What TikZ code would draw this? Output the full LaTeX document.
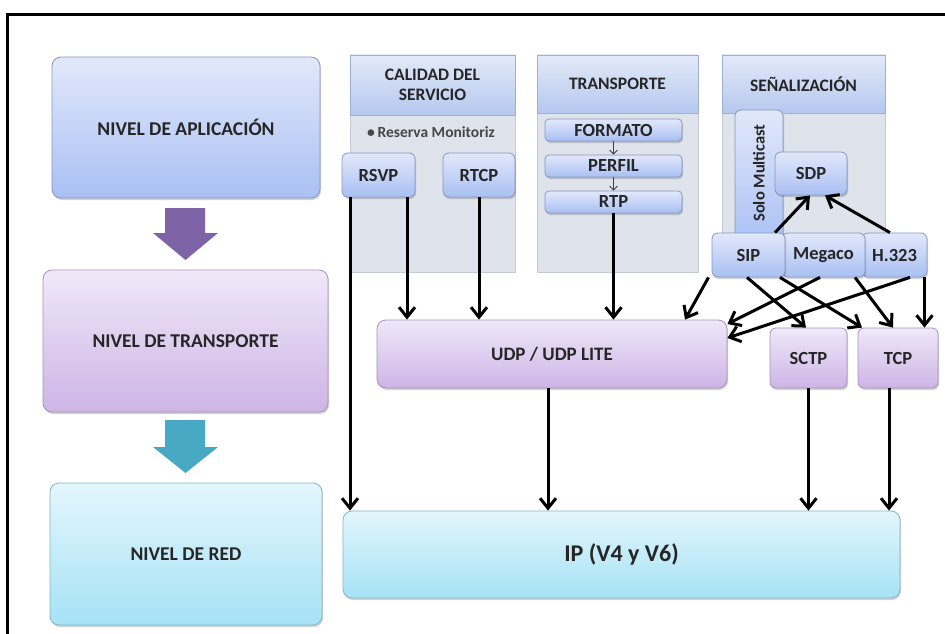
\documentclass[tikz,border=0pt]{standalone}
\usepackage{fontspec}
\setmainfont{Carlito}
\usetikzlibrary{arrows.meta,shadows}

\definecolor{inkc}{HTML}{262626}
\definecolor{appTop}{HTML}{E2E8FB}
\definecolor{appBot}{HTML}{A9C0F3}
\definecolor{appLine}{HTML}{8797BC}
\definecolor{trpTop}{HTML}{F0E8F9}
\definecolor{trpBot}{HTML}{CDB5E6}
\definecolor{trpLine}{HTML}{A593BD}
\definecolor{redTop}{HTML}{E3F6FC}
\definecolor{redBot}{HTML}{A6E2F6}
\definecolor{redLine}{HTML}{86B6C6}
\definecolor{panelFill}{HTML}{DFE3EB}
\definecolor{panelLine}{HTML}{C3CAD6}
\definecolor{hdrTop}{HTML}{E3EAF9}
\definecolor{hdrBot}{HTML}{B5C8EF}
\definecolor{hdrLine}{HTML}{9FB0CF}
\definecolor{arrPurple}{HTML}{7E63A6}
\definecolor{arrTeal}{HTML}{48A9C5}

\tikzset{
  shade/.style={drop shadow={shadow xshift=1pt, shadow yshift=-2pt, opacity=0.25, fill=black!70}},
  box/.style={rounded corners=9pt, draw, line width=0.8pt, align=center,
    text=inkc, inner sep=0pt, shade},
  appbox/.style={box, draw=appLine, top color=appTop, bottom color=appBot},
  trpbox/.style={box, draw=trpLine, top color=trpTop, bottom color=trpBot},
  redbox/.style={box, draw=redLine, top color=redTop, bottom color=redBot},
  smallbox/.style={box, rounded corners=6pt, draw=appLine, top color=appTop, bottom color=appBot},
  protofont/.style={font=\fontsize{18.5}{20}\selectfont\bfseries},
  protobox/.style={smallbox, protofont},
  bigtext/.style={font=\fontsize{19.5}{22}\selectfont\bfseries},
  panel/.style={draw=panelLine, line width=0.6pt, fill=panelFill, inner sep=0pt},
  header/.style={draw=hdrLine, line width=0.6pt, top color=hdrTop, bottom color=hdrBot,
    inner sep=0pt, align=center, text=inkc, font=\fontsize{17.5}{20}\selectfont\bfseries},
  conn/.style={line width=3pt, -{Straight Barb[length=10pt,width=16pt]}},
  thinconn/.style={line width=0.8pt, draw=black!75, -{Straight Barb[length=4pt,width=8pt]}}
}

\begin{document}
\begin{tikzpicture}[x=1pt,y=-1pt]
\useasboundingbox (0,0) rectangle (945,634);
\fill[white] (0,0) rectangle (945,634);

% outer frame
\draw[line width=3pt] (7,634) -- (7,15) -- (945,15);

% ---- left column: the three levels
\node[appbox, bigtext, minimum width=268pt, minimum height=141pt] (app) at (186,127.5) {NIVEL DE APLICACIÓN};
\node[trpbox, bigtext, minimum width=285pt, minimum height=142pt] (trp) at (185.5,341) {NIVEL DE TRANSPORTE};
\node[redbox, bigtext, minimum width=272pt, minimum height=142pt] (red) at (186,554) {NIVEL DE RED};

% block arrows between levels
\fill[arrPurple] (165,208) -- (205,208) -- (205,233) -- (218,233) -- (185.5,260)
  -- (153,233) -- (165,233) -- cycle;
\fill[arrTeal] (165,420) -- (205,420) -- (205,447) -- (218,447) -- (185.5,473)
  -- (153,447) -- (165,447) -- cycle;

% ---- column panels
\node[panel, minimum width=165pt, minimum height=217pt] (calp) at (432.5,163.5) {};
\node[header, minimum width=165pt, minimum height=60pt, anchor=north] (calh) at (calp.north) {CALIDAD DEL\\SERVICIO};
\node[panel, minimum width=161pt, minimum height=217pt] (trnp) at (617.5,163.5) {};
\node[header, minimum width=161pt, minimum height=58pt, anchor=north] (trnh) at (trnp.north) {TRANSPORTE};
\node[panel, minimum width=163pt, minimum height=200pt] (senp) at (803.5,155) {};
\node[header, minimum width=163pt, minimum height=58pt, anchor=north] (senh) at (senp.north) {SEÑALIZACIÓN};

% quality of service
\node[text=inkc!85, font=\fontsize{15.5}{17}\selectfont\bfseries] (resv) at (431,132) {\textbullet\,Reserva Monitoriz};
\node[protobox, minimum width=73pt, minimum height=44pt] (rsvp) at (378.5,175) {RSVP};
\node[protobox, minimum width=72pt, minimum height=44pt] (rtcp) at (479,175) {RTCP};

% transport chain
\node[protobox, rounded corners=4pt, minimum width=137pt, minimum height=22pt] (fmt) at (613.5,130) {FORMATO};
\node[protobox, rounded corners=4pt, minimum width=137pt, minimum height=22pt] (prf) at (613.5,166) {PERFIL};
\node[protobox, rounded corners=4pt, minimum width=137pt, minimum height=22pt] (rtp) at (613.5,202) {RTP};
\draw[thinconn] (fmt.south) -- (prf.north);
\draw[thinconn] (prf.south) -- (rtp.north);

% signalling
\node[smallbox, minimum width=48pt, minimum height=135pt] (solo) at (759,177.5) {};
\node[rotate=90, text=inkc, font=\fontsize{16.5}{18}\selectfont\bfseries] (solot) at (759,173) {Solo Multicast};
\node[protobox, minimum width=72pt, minimum height=43pt] (sdp) at (811,173.5) {SDP};
\node[protobox, minimum width=65pt, minimum height=44pt] (h323) at (894.5,255) {H.323};
\node[protobox, minimum width=83pt, minimum height=44pt] (meg) at (823.5,255) {Megaco};
\node[protobox, minimum width=73pt, minimum height=44pt] (sip) at (748.5,255) {SIP};

% ---- transport protocols
\node[trpbox, font=\fontsize{19}{21}\selectfont\bfseries, minimum width=350pt, minimum height=68pt] (udp) at (552,354) {UDP / UDP LITE};
\node[trpbox, protofont, rounded corners=6pt, minimum width=77pt, minimum height=60pt] (sctp) at (808.5,358) {SCTP};
\node[trpbox, protofont, rounded corners=6pt, minimum width=80pt, minimum height=60pt] (tcp) at (898,358) {TCP};

% ---- network
\node[redbox, font=\fontsize{24}{26}\selectfont\bfseries, minimum width=557pt, minimum height=87pt] (ip) at (621.5,554.5) {IP (V4 y V6)};

% ---- connectors
\draw[conn] ([xshift=-28.5pt]rsvp.south) -- ([xshift=-28.5pt]rsvp.south |- ip.north);
\draw[conn] ([xshift=28.5pt]rsvp.south) -- ([xshift=28.5pt]rsvp.south |- udp.north);
\draw[conn] (rtcp.south) -- (rtcp.south |- udp.north);
\draw[conn] (rtp.south) -- (rtp.south |- udp.north);

\draw[conn] ([xshift=26.5pt]sip.north) -- ([xshift=-1pt]sdp.south);
\draw[conn] ([xshift=-4.5pt]h323.north) -- ([xshift=14pt]sdp.south);

\draw[conn] ([xshift=-40pt]sip.south) -- ([xshift=133pt]udp.north);
\draw[conn] ([xshift=-1.5pt]sip.south) -- ([xshift=-2.5pt]sctp.north);
\draw[conn] ([xshift=-43.5pt]meg.south) -- ([xshift=-36pt]tcp.north);
\draw[conn] ([xshift=-3.5pt]meg.south) -- ([yshift=30pt]udp.east);
\draw[conn] ([xshift=-39.5pt]h323.south) -- ([xshift=-5pt]tcp.north);
\draw[conn] ([xshift=15.5pt]h323.south) -- ([yshift=16pt]udp.east);
\draw[conn] ([xshift=30pt]h323.south) -- ([xshift=30pt]h323.south |- tcp.north);

\draw[conn] ([xshift=-4pt]udp.south) -- ([xshift=-4pt]udp.south |- ip.north);
\draw[conn] (sctp.south) -- (sctp.south |- ip.north);
\draw[conn] ([xshift=-9pt]tcp.south) -- ([xshift=-9pt]tcp.south |- ip.north);
\end{tikzpicture}
\end{document}
